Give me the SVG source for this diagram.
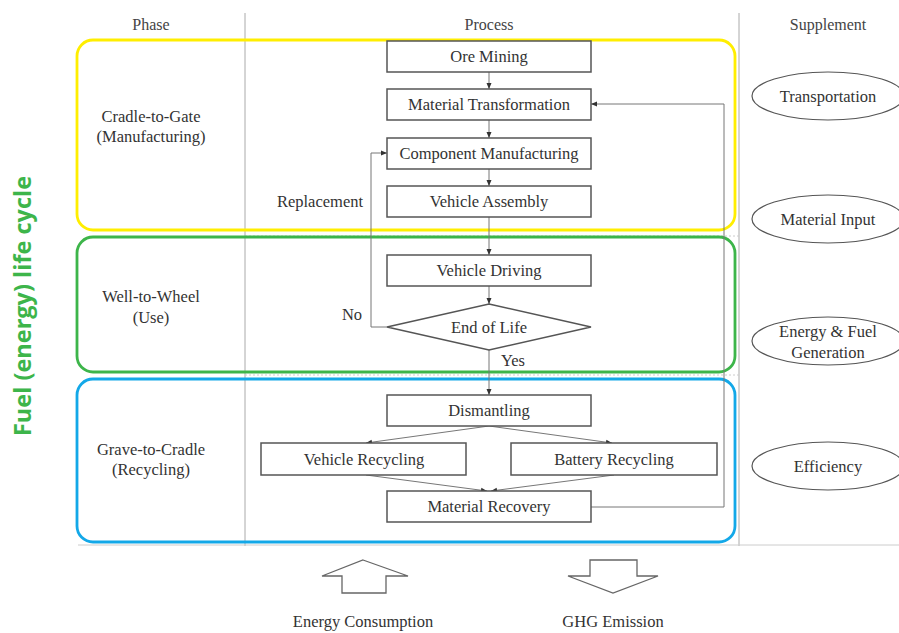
<svg xmlns="http://www.w3.org/2000/svg" width="899" height="633" viewBox="0 0 899 633">
<style>
text{font-family:'Liberation Serif','Times New Roman','DejaVu Serif',serif}
.t{font-size:16.5px;fill:#333;text-anchor:middle}
.h{font-size:16px;fill:#444;text-anchor:middle}
.box{fill:#fff;stroke:#555;stroke-width:1.5}
.ell{fill:#fff;stroke:#555;stroke-width:1.2}
.grid{stroke:#aaa;stroke-width:1;fill:none}
.c{stroke:#777;stroke-width:1;fill:none;marker-end:url(#ah)}
.big{fill:#fff;stroke:#666;stroke-width:1.3}
</style>
<defs>
<marker id="ah" markerWidth="7" markerHeight="7" refX="6" refY="3.5" orient="auto" markerUnits="userSpaceOnUse">
<path d="M0,1 L6,3.5 L0,6 Z" fill="#333"/>
</marker>
</defs>
<rect width="899" height="633" fill="#fff"/>
<g id="grid">
<line class="grid" x1="245" y1="13" x2="245" y2="546"/>
<line class="grid" x1="739" y1="13" x2="739" y2="546"/>
<line x1="78" y1="545" x2="899" y2="545" stroke="#ccc" stroke-width="1"/>
<line x1="245" y1="236" x2="739" y2="236" stroke="#ccc" stroke-dasharray="2,2"/>
<line x1="245" y1="375" x2="739" y2="375" stroke="#ccc" stroke-dasharray="2,2"/>
</g>
<g id="headers">
<text class="h" x="151" y="30">Phase</text>
<text class="h" x="489" y="30">Process</text>
<text class="h" x="828" y="30">Supplement</text>
</g>
<g id="phases">
<rect x="77" y="40" width="658" height="190" rx="16" fill="none" stroke="#ffee00" stroke-width="2.8"/>
<rect x="77" y="237" width="658" height="135" rx="16" fill="none" stroke="#3db54a" stroke-width="2.8"/>
<rect x="77" y="379" width="658" height="163" rx="16" fill="none" stroke="#13a8e8" stroke-width="2.8"/>
<text class="t" x="151" y="122">Cradle-to-Gate</text>
<text class="t" x="151" y="142">(Manufacturing)</text>
<text class="t" x="151" y="302">Well-to-Wheel</text>
<text class="t" x="151" y="323">(Use)</text>
<text class="t" x="151" y="455">Grave-to-Cradle</text>
<text class="t" x="151" y="475">(Recycling)</text>
</g>
<g id="connectors">
<line class="c" x1="489" y1="72" x2="489" y2="89"/>
<line class="c" x1="489" y1="120" x2="489" y2="138"/>
<line class="c" x1="489" y1="169" x2="489" y2="186"/>
<line class="c" x1="489" y1="217" x2="489" y2="255"/>
<line class="c" x1="489" y1="286" x2="489" y2="304"/>
<line class="c" x1="489" y1="350" x2="489" y2="395"/>
<polyline class="c" points="387,327 371,327 371,153 387,153"/>
<polyline class="c" points="591,507 724,507 724,104 591,104"/>
<line class="c" x1="489" y1="426" x2="366" y2="443"/>
<line class="c" x1="489" y1="426" x2="612" y2="443"/>
<line class="c" x1="366" y1="475" x2="487" y2="491"/>
<line class="c" x1="614" y1="475" x2="491" y2="491"/>
</g>
<g id="n-ore"><rect class="box" x="387" y="41" width="204" height="31"/><text class="t" x="489" y="62">Ore Mining</text></g>
<g id="n-mt"><rect class="box" x="387" y="89" width="204" height="31"/><text class="t" x="489" y="110">Material Transformation</text></g>
<g id="n-cm"><rect class="box" x="387" y="138" width="204" height="31"/><text class="t" x="489" y="159">Component Manufacturing</text></g>
<g id="n-va"><rect class="box" x="387" y="186" width="204" height="31"/><text class="t" x="489" y="207">Vehicle Assembly</text></g>
<g id="n-vd"><rect class="box" x="387" y="255" width="204" height="31"/><text class="t" x="489" y="276">Vehicle Driving</text></g>
<g id="n-eol"><polygon class="box" points="489,304 591,327 489,350 387,327"/><text class="t" x="489" y="333">End of Life</text></g>
<g id="n-dis"><rect class="box" x="387" y="395" width="204" height="31"/><text class="t" x="489" y="416">Dismantling</text></g>
<g id="n-vr"><rect class="box" x="261" y="443" width="205" height="32"/><text class="t" x="364" y="465">Vehicle Recycling</text></g>
<g id="n-br"><rect class="box" x="511" y="443" width="206" height="32"/><text class="t" x="614" y="465">Battery Recycling</text></g>
<g id="n-mr"><rect class="box" x="387" y="491" width="204" height="31"/><text class="t" x="489" y="512">Material Recovery</text></g>
<g id="labels">
<text class="t" x="320" y="207">Replacement</text>
<text class="t" x="352" y="320">No</text>
<text class="t" x="513" y="366">Yes</text>
</g>
<g id="s-transport"><ellipse class="ell" cx="828" cy="96" rx="76" ry="24"/><text class="t" x="828" y="102">Transportation</text></g>
<g id="s-material"><ellipse class="ell" cx="828" cy="219" rx="76" ry="24"/><text class="t" x="828" y="225">Material Input</text></g>
<g id="s-energy"><ellipse class="ell" cx="828" cy="341" rx="76" ry="24"/><text class="t" x="828" y="337">Energy &amp; Fuel</text><text class="t" x="828" y="358">Generation</text></g>
<g id="s-eff"><ellipse class="ell" cx="828" cy="466" rx="76" ry="24"/><text class="t" x="828" y="472">Efficiency</text></g>
<g id="energy-consumption">
<polygon class="big" points="363,560 408,576 386,576 386,593 342,593 342,576 322,576"/>
<text class="t" x="363" y="627">Energy Consumption</text>
</g>
<g id="ghg-emission">
<polygon class="big" points="590,560 637,560 637,576 658,576 613,593 568,576 590,576"/>
<text class="t" x="613" y="627">GHG Emission</text>
</g>
<text transform="translate(31,306) rotate(-90)" text-anchor="middle" style="font-family:'Open Sans','Noto Sans',sans-serif;font-weight:bold;font-size:23.5px" fill="#3db54a">Fuel (energy) life cycle</text>
</svg>
